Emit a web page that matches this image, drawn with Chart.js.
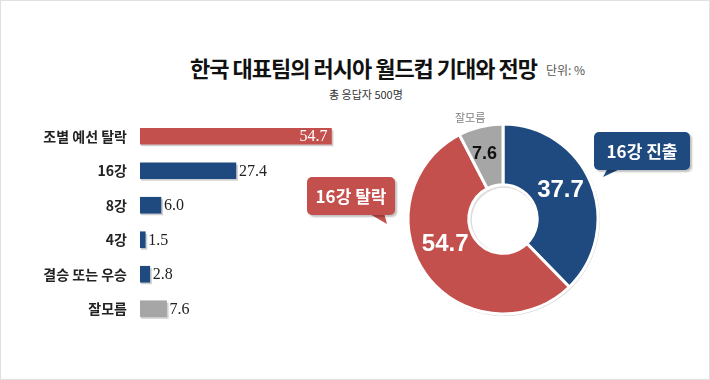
<!DOCTYPE html>
<html><head><meta charset="utf-8">
<script src="https://cdn.jsdelivr.net/npm/chart.js@4"></script>
<style>
html,body{margin:0;padding:0;background:#fff}
#wrap{position:relative;width:710px;height:380px;overflow:hidden;font-family:"Noto Sans CJK KR","Noto Sans",sans-serif}
#frame{position:absolute;left:0;top:0;width:710px;height:380px;box-sizing:border-box;border:1px solid #e0e0e0;pointer-events:none}
.abs{position:absolute;white-space:nowrap}
#title{left:190px;top:54px;font-size:22px;line-height:26px;font-weight:700;color:#111;letter-spacing:-1px}
#unit{left:546px;top:63px;font-size:12px;line-height:14px;color:#555}
#sub{left:329px;top:87px;font-size:11px;line-height:14px;color:#333}
#dk{left:455px;top:110px;font-size:11px;line-height:14px;color:#808080}
.call{position:absolute;color:#fff;font-weight:700;font-size:17px;text-align:center;border-radius:5px;box-shadow:2px 2px 2px rgba(0,0,0,0.25)}
.tail{position:absolute;left:0;top:0;width:710px;height:380px}
canvas{position:absolute}
</style></head>
<body><div id="wrap">
<div class="abs" id="title">한국 대표팀의 러시아 월드컵 기대와 전망</div>
<div class="abs" id="unit">단위: %</div>
<div class="abs" id="sub">총 응답자 500명</div>
<canvas id="bar" width="340" height="207" style="left:0;top:119px"></canvas>
<canvas id="donut" width="200" height="200" style="left:403px;top:119px"></canvas>
<div class="abs" id="dk">잘모름</div>
<div class="tail" style="background:#1F4A7F;clip-path:polygon(608px 168px,622px 168px,603px 177px)"></div>
<div class="call" style="left:594px;top:132px;width:96px;height:38px;line-height:37px;background:#1F4A7F">16강 진출</div>
<div class="tail" style="background:#C4504D;clip-path:polygon(368px 213px,384px 213px,387px 224px)"></div>
<div class="call" style="left:307px;top:177px;width:88px;height:38px;line-height:37px;background:#C4504D">16강 탈락</div>
<div id="frame"></div>
</div>
<script>
const RED = '#C4504D', BLUE = '#1F4A7F', GRAY = '#A6A6A6';

const categories = ['조별 예선 탈락', '16강', '8강', '4강', '결승 또는 우승', '잘모름'];
const barValues = [54.7, 27.4, 6.0, 1.5, 2.8, 7.6];
const barColors = [RED, BLUE, BLUE, BLUE, BLUE, GRAY];

const donutLabels = ['16강 진출', '16강 탈락', '잘모름'];
const donutValues = [37.7, 54.7, 7.6];
const donutColors = [BLUE, RED, GRAY];
const donutTextColors = ['#fff', '#fff', '#111'];
const donutTextSizes = [24, 24, 18];
const donutShift = [-5, 13, -2];     // degrees
const donutRadFrac = [0.5, 0.47, 0.57];

const barShadow = {
  id: 'barShadow',
  beforeDatasetsDraw(chart) {
    const ctx = chart.ctx;
    const meta = chart.getDatasetMeta(0);
    ctx.save();
    ctx.fillStyle = '#cfcfcf';
    meta.data.forEach(b => {
      const h = b.height;
      ctx.fillRect(b.base + 1, b.y - h / 2 + 2, b.x - b.base + 1, h);
    });
    ctx.restore();
  }
};
const barLabels = {
  id: 'barLabels',
  afterDatasetsDraw(chart) {
    const ctx = chart.ctx;
    const meta = chart.getDatasetMeta(0);
    ctx.save();
    ctx.font = '16px "Liberation Serif", serif';
    ctx.textBaseline = 'middle';
    meta.data.forEach((b, i) => {
      const txt = barValues[i].toFixed(1);
      if (i === 0) {
        ctx.fillStyle = '#fff';
        ctx.textAlign = 'right';
        ctx.fillText(txt, b.x - 4, b.y + 1);
      } else {
        ctx.fillStyle = '#222';
        ctx.textAlign = 'left';
        ctx.fillText(txt, b.x + 3, b.y + 1);
      }
    });
    ctx.restore();
  }
};

new Chart(document.getElementById('bar'), {
  type: 'bar',
  data: {
    labels: categories,
    datasets: [{ data: barValues, backgroundColor: barColors, barThickness: 16 }]
  },
  options: {
    indexAxis: 'y',
    responsive: false,
    animation: false,
    layout: { padding: 0, autoPadding: false },
    plugins: { legend: { display: false }, tooltip: { enabled: false } },
    scales: {
      x: { display: false, min: 0, max: 57.14 },
      y: {
        grid: { display: false, drawTicks: false },
        border: { display: false },
        ticks: { color: '#222', padding: 13, font: { size: 14, weight: '700', family: '"Noto Sans CJK KR", sans-serif' } },
        afterFit(s) { s.width = 140; s.paddingTop = 0; s.paddingBottom = 0; }
      }
    }
  },
  plugins: [barShadow, barLabels]
});

const donutDeco = {
  id: 'donutDeco',
  beforeDatasetsDraw(chart) {
    const a = chart.getDatasetMeta(0).data[0];
    const ctx = chart.ctx;
    ctx.save();
    ctx.beginPath();
    ctx.arc(a.x + 1, a.y + 1, a.outerRadius + 1, 0, Math.PI * 2);
    ctx.arc(a.x + 1, a.y + 1, a.innerRadius - 2, 0, Math.PI * 2, true);
    ctx.fillStyle = '#dedede';
    ctx.fill('evenodd');
    ctx.restore();
  },
  afterDatasetsDraw(chart) {
    const ctx = chart.ctx;
    const meta = chart.getDatasetMeta(0);
    ctx.save();
    ctx.textAlign = 'center';
    ctx.textBaseline = 'middle';
    meta.data.forEach((a, i) => {
      const ang = (a.startAngle + a.endAngle) / 2 + donutShift[i] * Math.PI / 180;
      const r = a.innerRadius + (a.outerRadius - a.innerRadius) * donutRadFrac[i];
      ctx.font = 'bold ' + donutTextSizes[i] + 'px "Liberation Sans", Arial, sans-serif';
      ctx.fillStyle = donutTextColors[i];
      ctx.fillText(donutValues[i].toFixed(1), a.x + Math.cos(ang) * r, a.y + Math.sin(ang) * r + 1);
    });
    ctx.restore();
  }
};

new Chart(document.getElementById('donut'), {
  type: 'doughnut',
  data: {
    labels: donutLabels,
    datasets: [{ data: donutValues, backgroundColor: donutColors, borderColor: '#fff', borderWidth: 3 }]
  },
  options: {
    responsive: false,
    animation: false,
    radius: 95,
    cutout: '36%',
    layout: { padding: 0 },
    plugins: { legend: { display: false }, tooltip: { enabled: false } }
  },
  plugins: [donutDeco]
});
</script>
</body></html>
